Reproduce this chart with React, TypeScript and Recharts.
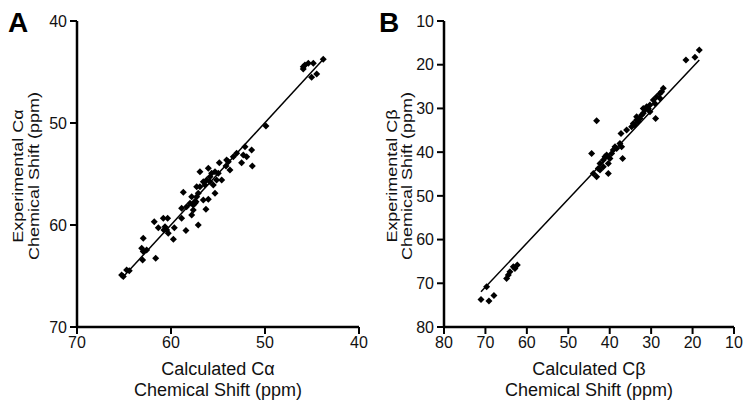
import React from "react";
import { ScatterChart, Scatter, XAxis, YAxis, ReferenceLine } from "recharts";

// Panel A: C-alpha, calculated (x) vs experimental (y), ppm
const calcA = [
  65.25, 65.07, 64.72, 64.44, 62.95, 63.12, 62.95, 62.59, 63.02, 61.63,
  61.78, 61.35, 60.82, 60.36, 60.64, 60.46, 60.29, 59.75, 59.65, 60.75,
  58.69, 58.87, 58.34, 58.87, 58.41, 57.8, 57.63, 57.45, 57.1, 57.27,
  57.8, 56.92, 57.1, 56.56, 56.28, 56.03, 56.92, 56.03, 56.56, 56.21,
  55.85, 55.68, 55.32, 55.15, 55.32, 55.5, 54.97, 54.61, 54.86, 54.15,
  53.9, 53.73, 53.37, 53.02, 52.49, 52.31, 52.13, 51.42, 51.35, 51.95,
  57.63, 57.34, 57.98, 57.27, 56.38, 55.85, 54.08, 49.9, 45.93, 45.75,
  45.39, 44.86, 45.93, 45.04, 44.5, 43.8,
];
const expA = [
  64.9, 65.06, 64.41, 64.48, 61.31, 62.29, 62.61, 62.45, 63.43, 63.27,
  59.67, 60.26, 59.35, 59.35, 60.16, 60.49, 60.82, 61.4, 60.26, 60.49,
  56.8, 58.36, 58.2, 59.35, 60.55, 59.02, 58.53, 57.87, 60.0, 57.22,
  57.22, 56.24, 56.89, 57.55, 58.46, 57.48, 54.77, 54.44, 55.75, 55.59,
  55.26, 54.93, 54.77, 55.59, 56.89, 56.08, 54.93, 55.59, 53.89, 54.21,
  53.79, 54.61, 53.3, 52.97, 53.89, 53.14, 52.32, 52.65, 54.21, 53.3,
  58.04, 57.71, 57.87, 56.24, 56.08, 55.75, 53.63, 50.29, 44.48, 44.31,
  44.15, 44.15, 44.7, 45.52, 45.2, 43.76,
];
const fitA = [
  { x: 65.2, y: 65.2 },
  { x: 43.8, y: 43.75 },
];

// Panel B: C-beta
const calcB = [
  71.07, 69.71, 69.15, 67.94, 64.88, 64.48, 64.08, 63.27, 62.31, 62.87,
  44.37, 43.16, 43.96, 43.16, 42.76, 42.35, 41.55, 41.15, 40.75, 40.34,
  40.34, 39.94, 39.54, 39.14, 38.73, 38.33, 37.53, 37.12, 36.88, 37.28,
  35.92, 34.71, 34.31, 33.5, 32.7, 32.3, 31.9, 31.49, 31.09, 30.69,
  30.29, 30.29, 29.48, 29.08, 28.92, 28.68, 27.87, 27.47, 27.07, 27.87,
  21.6, 19.43, 18.38, 33.5, 33.1, 33.9, 31.9, 42.35, 41.55,
];
const expB = [
  73.7, 70.8, 74.08, 72.78, 68.89, 68.13, 67.37, 66.22, 65.84, 66.6,
  40.29, 32.81, 44.86, 45.63, 43.72, 42.58, 41.81, 41.05, 40.67, 44.86,
  42.58, 41.43, 40.29, 39.52, 38.76, 39.14, 38.0, 38.76, 41.43, 35.71,
  34.95, 34.19, 33.42, 32.66, 32.28, 31.52, 31.13, 30.37, 29.61, 29.99,
  30.75, 29.23, 28.08, 28.85, 32.28, 27.32, 26.56, 26.18, 25.41, 27.7,
  18.93, 18.32, 16.64, 31.9, 33.04, 33.8, 29.99, 44.1, 43.34,
];
const fitB = [
  { x: 71.07, y: 71.94 },
  { x: 18.38, y: 18.93 },
];

const ticksA = [40, 50, 60, 70];
const ticksB = [10, 20, 30, 40, 50, 60, 70, 80];

const FONT = "'Liberation Sans', Arial, Helvetica, sans-serif";

const Diamond = (props: any) => {
  const { cx, cy } = props;
  const r = 3.5;
  return <path d={`M${cx},${cy - r}L${cx + r},${cy}L${cx},${cy + r}L${cx - r},${cy}Z`} fill="#000" />;
};

type PanelProps = {
  letter: string;
  letterX: number;
  greek: string;
  xs: number[];
  ys: number[];
  fit: { x: number; y: number }[];
  domain: [number, number];
  ticks: number[];
  width: number;
  plotWidth: number;
  yAxisWidth: number;
  yLabel1X: number;
  yLabel2X: number;
};

function Panel(p: PanelProps) {
  const data = p.xs.map((x, i) => ({ x, y: p.ys[i] }));
  const height = 408;
  const top = 21;
  const bottom = 81;
  const right = p.width - p.yAxisWidth - p.plotWidth;
  const midX = p.yAxisWidth + p.plotWidth / 2;
  const midY = (top + (height - bottom)) / 2 + 2;
  const axisStyle = { stroke: "#000", strokeWidth: 2.5 };
  // rotated labels are a bit narrower in the source figure
  const rot = (x: number) => `translate(${x} ${midY}) rotate(-90) scale(1 0.82)`;
  return (
    <div style={{ position: "relative", width: p.width, height }}>
      <ScatterChart width={p.width} height={height} margin={{ top, right, bottom: 0, left: 0 }}>
        <XAxis
          type="number"
          dataKey="x"
          domain={p.domain}
          ticks={p.ticks}
          reversed
          allowDataOverflow
          height={bottom}
          axisLine={axisStyle}
          tickLine={{ stroke: "#000", strokeWidth: 2 }}
          tickSize={7}
          tickMargin={3}
          tick={{ fill: "#111", fontSize: 16, fontFamily: FONT }}
        />
        <YAxis
          type="number"
          dataKey="y"
          domain={p.domain}
          ticks={p.ticks}
          reversed
          allowDataOverflow
          width={p.yAxisWidth}
          axisLine={axisStyle}
          tickLine={{ stroke: "#000", strokeWidth: 2 }}
          tickSize={7}
          tickMargin={3}
          tick={{ fill: "#111", fontSize: 16, fontFamily: FONT }}
        />
        <ReferenceLine segment={p.fit} stroke="#000" strokeWidth={1.5} ifOverflow="visible" />
        <Scatter data={data} shape={Diamond} isAnimationActive={false} />
      </ScatterChart>
      <svg
        width={p.width}
        height={height}
        style={{ position: "absolute", left: 0, top: 0, pointerEvents: "none" }}
        fontFamily={FONT}
      >
        <text x={p.letterX} y={32} fontSize={28} fontWeight="bold" fill="#000">
          {p.letter}
        </text>
        <text x={midX} y={374.5} fontSize={18} textAnchor="middle" fill="#111">
          {`Calculated C${p.greek}`}
        </text>
        <text x={midX} y={395.5} fontSize={18} textAnchor="middle" fill="#111">
          Chemical Shift (ppm)
        </text>
        <text x={0} y={0} fontSize={18} textAnchor="middle" fill="#111" transform={rot(p.yLabel1X)}>
          {`Experimental C${p.greek}`}
        </text>
        <text x={0} y={0} fontSize={18} textAnchor="middle" fill="#111" transform={rot(p.yLabel2X)}>
          Chemical Shift (ppm)
        </text>
      </svg>
    </div>
  );
}

export default function App() {
  return (
    <div
      style={{
        position: "absolute",
        left: 0,
        top: 0,
        width: 751,
        height: 408,
        background: "#fff",
        display: "flex",
      }}
    >
      <Panel
        letter="A"
        letterX={8}
        greek="α"
        xs={calcA}
        ys={expA}
        fit={fitA}
        domain={[40, 70]}
        ticks={ticksA}
        width={375}
        plotWidth={282}
        yAxisWidth={77}
        yLabel1X={23}
        yLabel2X={39}
      />
      <Panel
        letter="B"
        letterX={4}
        greek="β"
        xs={calcB}
        ys={expB}
        fit={fitB}
        domain={[10, 80]}
        ticks={ticksB}
        width={376}
        plotWidth={290}
        yAxisWidth={69}
        yLabel1X={21.5}
        yLabel2X={36.5}
      />
    </div>
  );
}
